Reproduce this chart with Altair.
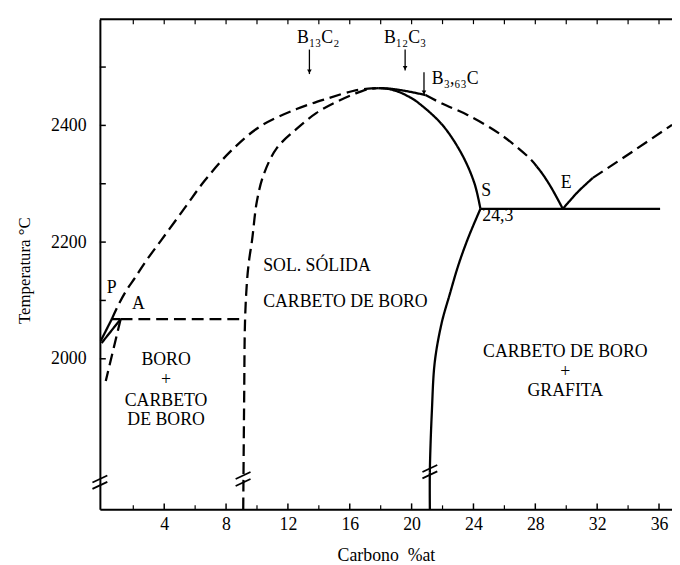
import altair as alt
import pandas as pd

# ---------------- data (Carbono %at, Temperatura °C) ----------------
liq_low_x = [-0.1, 0.61]
liq_low_y = [2031, 2068]
edge_low_x = [-0.05, 1.18]
edge_low_y = [2027, 2068]
edge_top_x = [0.61, 1.18]
edge_top_y = [2068, 2068]
peritectic_x = [1.18, 9.23]
peritectic_y = [2068, 2068]
steep_x = [1.18, 0.22]
steep_y = [2068, 1962]
liq_left_x = [0.61, 1.05, 1.57, 2.14, 2.78, 3.8, 5.34, 6.61, 8.27, 10.19, 12.56, 14.67, 16.2, 17.2, 17.86]
liq_left_y = [2068, 2093, 2118, 2140, 2166, 2203, 2259, 2305, 2355, 2398, 2428, 2447, 2459, 2463, 2464]
sol_left_x = [9.11, 9.17, 9.23, 9.36, 9.49, 9.68, 10.0, 10.45, 11.28, 12.56, 13.83, 15.11, 16.39, 17.2, 17.86]
sol_left_y = [1742, 1932, 2068, 2135, 2169, 2203, 2271, 2317, 2361, 2394, 2421, 2440, 2455, 2462, 2464]
sol_right_up_x = [17.86, 18.6, 19.3, 19.9, 20.42, 21.95, 23.22, 24.06, 24.45]
sol_right_up_y = [2464, 2462, 2456, 2448, 2439, 2402, 2352, 2301, 2257]
sol_right_low_x = [24.45, 23.67, 23.03, 22.46, 21.95, 21.5, 21.31, 21.18, 21.18]
sol_right_low_y = [2257, 2208, 2161, 2110, 2062, 1995, 1910, 1808, 1742]
liq_right_a_x = [17.86, 18.6, 19.4, 20.2, 20.9]
liq_right_a_y = [2464, 2463, 2460, 2456, 2452]
liq_right_b_x = [20.9, 22.0, 23.61, 25.78, 27.7, 28.08]
liq_right_b_y = [2452, 2437, 2418, 2384, 2342, 2330]
liq_right_c_x = [28.08, 28.46, 29.04, 29.78]
liq_right_c_y = [2330, 2317, 2293, 2257]
graf_a_x = [29.78, 30.75, 31.72]
graf_a_y = [2257, 2286, 2310]
graf_b_x = [31.72, 34.28, 36.84]
graf_b_y = [2310, 2355, 2401]
eutectic_x = [24.45, 36.07]
eutectic_y = [2257, 2257]

segments = [
    ("liq_low", liq_low_x, liq_low_y, "solid"),
    ("edge_low", edge_low_x, edge_low_y, "solid"),
    ("edge_top", edge_top_x, edge_top_y, "solid"),
    ("peritectic", peritectic_x, peritectic_y, "dashed"),
    ("steep", steep_x, steep_y, "dashed"),
    ("liq_left", liq_left_x, liq_left_y, "dashed"),
    ("sol_left", sol_left_x, sol_left_y, "dashed"),
    ("sol_right_up", sol_right_up_x, sol_right_up_y, "solid"),
    ("sol_right_low", sol_right_low_x, sol_right_low_y, "solid"),
    ("liq_right_a", liq_right_a_x, liq_right_a_y, "solid"),
    ("liq_right_b", liq_right_b_x, liq_right_b_y, "dashed"),
    ("liq_right_c", liq_right_c_x, liq_right_c_y, "solid"),
    ("graf_a", graf_a_x, graf_a_y, "solid"),
    ("graf_b", graf_b_x, graf_b_y, "dashed"),
    ("eutectic", eutectic_x, eutectic_y, "solid"),
]

# axis-break marks (double slashes)
break_x = [-0.16, -0.16, 9.1, 9.1, 21.18, 21.18]
break_y = [1794, 1783, 1800, 1788, 1812, 1801]

# arrows to compounds
arrow_x = [13.39, 19.58, 20.8]
arrow_top = [2530, 2530, 2491]
arrow_tip = [2488, 2494, 2452]

# labels
lab_c_text = ["B₁₃C₂", "B₁₂C₃", "P", "A", "S", "E",
              "BORO", "+", "CARBETO", "DE BORO",
              "CARBETO DE BORO", "+", "GRAFITA"]
lab_c_x = [13.96, 19.58, 0.61, 2.33, 24.82, 30.0,
           4.12, 4.12, 4.12, 4.12,
           29.94, 29.94, 29.94]
lab_c_y = [2550, 2550, 2122, 2093, 2288, 2301,
           1997, 1963, 1927, 1895,
           2012, 1978, 1944]
lab_l_text = ["B₃,₆₃C", "24,3", "SOL. SÓLIDA", "CARBETO DE BORO"]
lab_l_x = [21.31, 24.57, 10.4, 10.4]
lab_l_y = [2479, 2245, 2159, 2098]

x_labels = [4, 8, 12, 16, 20, 24, 28, 32, 36]
x_minor = [2, 6, 10, 14, 18, 22, 26, 30, 34]
top_ticks = [2, 4, 6, 8, 10, 12, 14, 16, 18, 20, 22, 24, 26, 28, 30, 32, 34, 36]
y_ticks = [2000, 2100, 2200, 2300, 2400, 2500]
y_labels = [2000, 2200, 2400]

# ---------------- build tables ----------------
rows = []
for name, xs_, ys_, style in segments:
    for i, (xv, yv) in enumerate(zip(xs_, ys_)):
        rows.append({"seg": name, "i": i, "x": xv, "y": yv, "style": style})
curves = pd.DataFrame(rows)

brk = pd.DataFrame({"xa": [v - 0.48 for v in break_x], "xb": [v + 0.48 for v in break_x],
                    "ya": [v - 6 for v in break_y], "yb": [v + 6 for v in break_y]})
arr = pd.DataFrame({"x": arrow_x, "y1": arrow_top, "y2": arrow_tip})
labc = pd.DataFrame({"t": lab_c_text, "x": lab_c_x, "y": lab_c_y})
labl = pd.DataFrame({"t": lab_l_text, "x": lab_l_x, "y": lab_l_y})

W, H = 579, 496
FONT = "Liberation Serif, Times New Roman, DejaVu Serif, serif"
xs = alt.Scale(domain=[-0.16, 36.84], nice=False, zero=False)
ys = alt.Scale(domain=[1742, 2582], nice=False, zero=False)

xaxis = alt.Axis(values=x_labels, ticks=False, grid=False, domain=True, domainColor="black",
                 domainWidth=2, labelFont=FONT, labelFontSize=18, labelColor="black",
                 labelPadding=6, labelFlush=False, title="Carbono\u00a0\u00a0%at", titleFont=FONT,
                 titleFontSize=18, titleFontWeight="normal", titleColor="black", titlePadding=14)
yaxis = alt.Axis(values=y_labels, format="d", ticks=False, grid=False, domain=True, domainColor="black",
                 domainWidth=2, labelFont=FONT, labelFontSize=18, labelColor="black",
                 labelPadding=14, labelFlush=False, title="Temperatura °C", titleFont=FONT, titleFontSize=17,
                 titleFontWeight="normal", titleColor="black", titleAngle=270,
                 titleX=-76, titleY=254, titleAlign="center", titleBaseline="middle")

lines = alt.Chart(curves).mark_line(color="black", strokeWidth=2.3, interpolate="catmull-rom").encode(
    x=alt.X("x:Q", scale=xs, axis=xaxis),
    y=alt.Y("y:Q", scale=ys, axis=yaxis),
    detail="seg:N",
    order="i:Q",
    strokeDash=alt.StrokeDash("style:N", scale=alt.Scale(domain=["solid", "dashed"], range=[[1, 0], [12, 6]]), legend=None),
)

breaks = alt.Chart(brk).mark_rule(color="black", strokeWidth=1.8).encode(
    x=alt.X("xa:Q", scale=xs), x2="xb:Q", y=alt.Y("ya:Q", scale=ys), y2="yb:Q")

arrows = alt.Chart(arr).mark_rule(color="black", strokeWidth=1.3).encode(
    x=alt.X("x:Q", scale=xs), y=alt.Y("y1:Q", scale=ys), y2="y2:Q")
heads = alt.Chart(arr).mark_point(shape="triangle-down", filled=True, color="black", size=22, yOffset=-2.5, opacity=1).encode(
    x=alt.X("x:Q", scale=xs), y=alt.Y("y2:Q", scale=ys))

textc = alt.Chart(labc).mark_text(font=FONT, fontSize=18, color="black", align="center", baseline="middle").encode(
    x=alt.X("x:Q", scale=xs), y=alt.Y("y:Q", scale=ys), text="t:N")
textl = alt.Chart(labl).mark_text(font=FONT, fontSize=18, color="black", align="left", baseline="middle").encode(
    x=alt.X("x:Q", scale=xs), y=alt.Y("y:Q", scale=ys), text="t:N")

# inward ticks
xt_major = alt.Chart(pd.DataFrame({"v": x_labels})).mark_rule(color="black", strokeWidth=1.5).encode(
    x=alt.X("v:Q", scale=xs), y=alt.value(H), y2=alt.value(H - 6))
xt_minor = alt.Chart(pd.DataFrame({"v": x_minor})).mark_rule(color="black", strokeWidth=1.2).encode(
    x=alt.X("v:Q", scale=xs), y=alt.value(H), y2=alt.value(H - 4))
xt_top = alt.Chart(pd.DataFrame({"v": top_ticks})).mark_rule(color="black", strokeWidth=1.2).encode(
    x=alt.X("v:Q", scale=xs), y=alt.value(0), y2=alt.value(5))
yt = alt.Chart(pd.DataFrame({"v": y_ticks})).mark_rule(color="black", strokeWidth=1.5).encode(
    y=alt.Y("v:Q", scale=ys), x=alt.value(0), x2=alt.value(6))
top_line = alt.Chart(pd.DataFrame({"v": [0]})).mark_rule(color="black", strokeWidth=2).encode(
    x=alt.value(0), x2=alt.value(W), y=alt.value(0))

chart = alt.layer(lines, breaks, arrows, heads, textc, textl, xt_major, xt_minor, xt_top, yt, top_line).properties(
    width=W, height=H,
    padding={"left": 93, "top": 8, "right": 0, "bottom": 53},
    autosize=alt.AutoSizeParams(type="none"),
).configure_view(stroke=None).configure(background="white")

chart.save("out.html", embed_options={"renderer": "svg", "actions": False})
